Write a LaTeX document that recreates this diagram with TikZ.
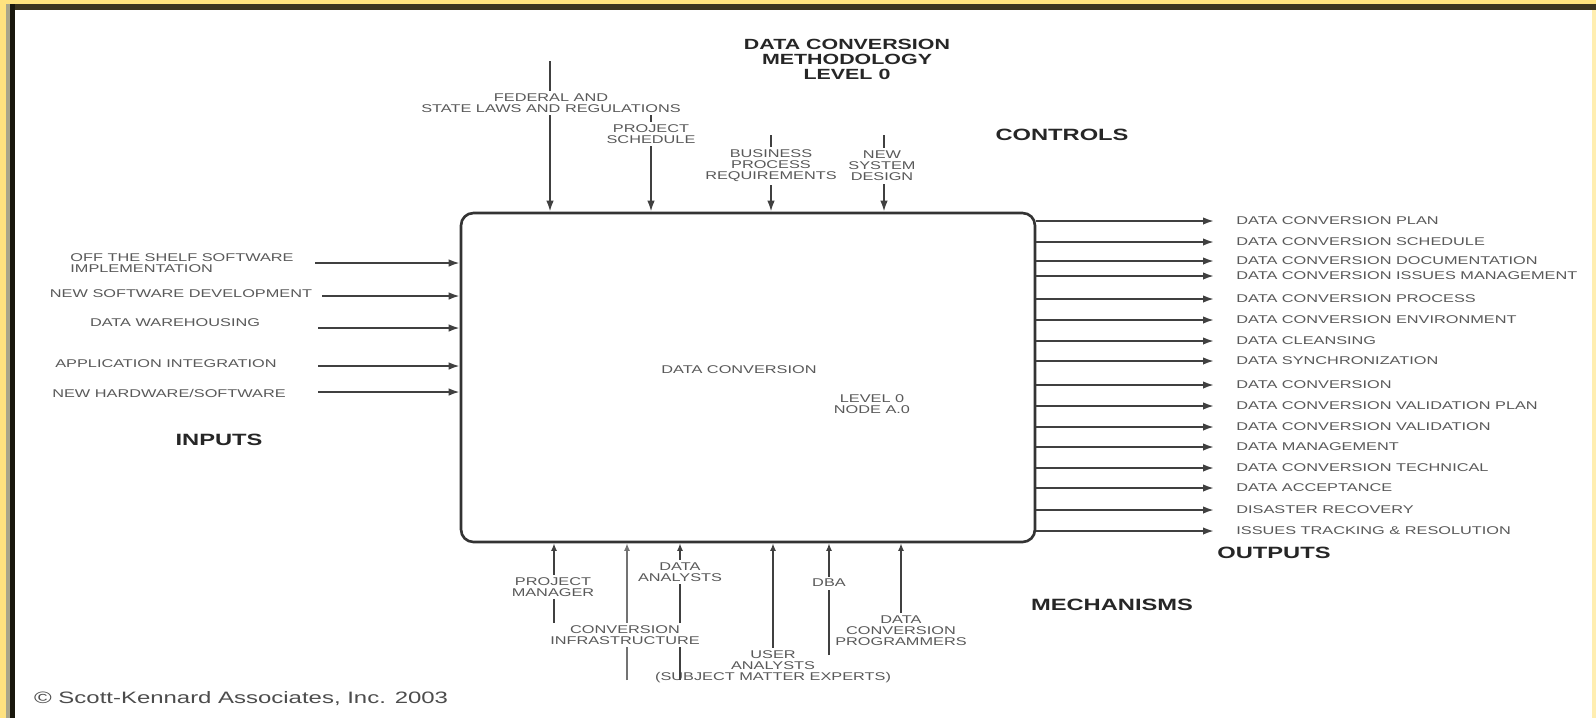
\documentclass[tikz,border=0pt]{standalone}
\usepackage{fontspec}
\setmainfont{Liberation Sans}[FakeStretch=1.45]
\usepackage{xcolor}
\usepackage{tikz}
\usetikzlibrary{arrows.meta}
\definecolor{rim}{HTML}{FFE27F}
\definecolor{rimdark}{HTML}{3B3320}
\definecolor{rimgray}{HTML}{A9A58A}

\begin{document}
\begin{tikzpicture}[x=0.02cm, y=-0.02cm,
  lbl/.style={font=\fontsize{6.4}{6.3}\selectfont, text=black!65, align=center, inner sep=1.5pt},
  onlbl/.style={lbl, fill=white},
  outlbl/.style={lbl, anchor=west, inner sep=0pt},
  head/.style={font=\fontsize{9.3}{9.3}\selectfont\bfseries, text=black!85},
  arr/.style={-{Latex[length=2.2mm, width=1.5mm]}, line width=1.1pt, draw=black!75},
  marr/.style={-{Latex[length=1.5mm, width=1.2mm]}, line width=1.1pt, draw=black!75},
  outarr/.style={arr, shorten >=0.44cm}]
% frame
\useasboundingbox (0,0) rectangle (1596,718);
\fill[white] (0,0) rectangle (1596,718);
\fill[rim] (0,0) rectangle (1596,4);
\fill[rim] (0,0) rectangle (6,718);
\fill[rim!60] (1592,10) rectangle (1596,718);
\fill[rimdark] (6,4) rectangle (1596,10);
\fill[rimgray] (6,4) rectangle (10,718);
\fill[black!90!rim] (10,4) rectangle (15,718);
% titles
\node[font=\fontsize{8.4}{8.5}\selectfont\bfseries, text=black!85, align=center] (title) at (847,59) {DATA CONVERSION\\METHODOLOGY\\LEVEL 0};
\node[head] (controls) at (1062,135) {CONTROLS};
\node[head] (inputs) at (219,440) {INPUTS};
\node[head] (outputs) at (1274,553) {OUTPUTS};
\node[head] (mech) at (1112,605) {MECHANISMS};
\node[font=\fontsize{9.4}{10}\selectfont, text=black!70, anchor=west] (copy) at (28,699) {\textcopyright{} Scott-Kennard Associates, Inc. 2003};
% activity box
\node[draw=black!80, line width=1.5pt, rounded corners=7pt, minimum width=11.48cm, minimum height=6.58cm] (dc) at (748,377.5) {};
\node[lbl] (dcname) at (739,370) {DATA CONVERSION};
\node[lbl] (dcnode) at (872,404) {LEVEL 0\\NODE A.0};
% inputs
\node[lbl, align=left] (ots) at (182,263.5) {OFF THE SHELF SOFTWARE\\IMPLEMENTATION};
\node[lbl] (nsd) at (181,294) {NEW SOFTWARE DEVELOPMENT};
\node[lbl] (dw) at (175,323) {DATA WAREHOUSING};
\node[lbl] (ai) at (166,364) {APPLICATION INTEGRATION};
\node[lbl] (nhs) at (169,393) {NEW HARDWARE/SOFTWARE};
\coordinate (i1) at (315,263);
\coordinate (i2) at (322,296);
\coordinate (i3) at (318,328);
\coordinate (i4) at (318,366);
\coordinate (i5) at (318,392);
\draw[arr] (i1) -- (i1 -| dc.west); \draw[arr] (i2) -- (i2 -| dc.west);
\draw[arr] (i3) -- (i3 -| dc.west); \draw[arr] (i4) -- (i4 -| dc.west);
\draw[arr] (i5) -- (i5 -| dc.west);
% controls
\coordinate (c1) at (550,61);
\coordinate (c2) at (651,114);
\coordinate (c3) at (771,135);
\coordinate (c4) at (884,135);
\draw[arr] (c1) -- (c1 |- dc.north); \draw[arr] (c2) -- (c2 |- dc.north);
\draw[arr] (c3) -- (c3 |- dc.north); \draw[arr] (c4) -- (c4 |- dc.north);
\node[onlbl] (fed) at (551,103) {FEDERAL AND\\STATE LAWS AND REGULATIONS};
\node[onlbl] (sched) at (651,134) {PROJECT\\SCHEDULE};
\node[onlbl] (bpr) at (771,166) {BUSINESS\\PROCESS\\REQUIREMENTS};
\node[onlbl] (sysd) at (882,166) {NEW\\SYSTEM\\DESIGN};
% outputs
\node[outlbl] (o1) at (1236,221) {DATA CONVERSION PLAN};
\node[outlbl] (o2) at (1236,242) {DATA CONVERSION SCHEDULE};
\node[outlbl] (o3) at (1236,261) {DATA CONVERSION DOCUMENTATION};
\node[outlbl] (o4) at (1236,276) {DATA CONVERSION ISSUES MANAGEMENT};
\node[outlbl] (o5) at (1236,299) {DATA CONVERSION PROCESS};
\node[outlbl] (o6) at (1236,320) {DATA CONVERSION ENVIRONMENT};
\node[outlbl] (o7) at (1236,341) {DATA CLEANSING};
\node[outlbl] (o8) at (1236,361) {DATA SYNCHRONIZATION};
\node[outlbl] (o9) at (1236,385) {DATA CONVERSION};
\node[outlbl] (o10) at (1236,406) {DATA CONVERSION VALIDATION PLAN};
\node[outlbl] (o11) at (1236,427) {DATA CONVERSION VALIDATION};
\node[outlbl] (o12) at (1236,447) {DATA MANAGEMENT};
\node[outlbl] (o13) at (1236,468) {DATA CONVERSION TECHNICAL};
\node[outlbl] (o14) at (1236,488) {DATA ACCEPTANCE};
\node[outlbl] (o15) at (1236,510) {DISASTER RECOVERY};
\node[outlbl] (o16) at (1236,531) {ISSUES TRACKING \& RESOLUTION};
\draw[outarr] (dc.east |- o1.west) -- (o1.west); \draw[outarr] (dc.east |- o2.west) -- (o2.west);
\draw[outarr] (dc.east |- o3.west) -- (o3.west); \draw[outarr] (dc.east |- o4.west) -- (o4.west);
\draw[outarr] (dc.east |- o5.west) -- (o5.west); \draw[outarr] (dc.east |- o6.west) -- (o6.west);
\draw[outarr] (dc.east |- o7.west) -- (o7.west); \draw[outarr] (dc.east |- o8.west) -- (o8.west);
\draw[outarr] (dc.east |- o9.west) -- (o9.west); \draw[outarr] (dc.east |- o10.west) -- (o10.west);
\draw[outarr] (dc.east |- o11.west) -- (o11.west); \draw[outarr] (dc.east |- o12.west) -- (o12.west);
\draw[outarr] (dc.east |- o13.west) -- (o13.west); \draw[outarr] (dc.east |- o14.west) -- (o14.west);
\draw[outarr] (dc.east |- o15.west) -- (o15.west); \draw[outarr] (dc.east |- o16.west) -- (o16.west);
% mechanisms
\node[lbl] (ua) at (773,667) {USER\\ANALYSTS\\(SUBJECT MATTER EXPERTS)};
\node[lbl] (dcp) at (901,631) {DATA\\CONVERSION\\PROGRAMMERS};
\coordinate (m1) at (554,625);
\coordinate (m2) at (627,680);
\coordinate (m3) at (680,680);
\coordinate (m5) at (829,655);
\draw[marr] (m1) -- (m1 |- dc.south);
\draw[marr, draw=black!55, line width=1.6pt] (m2) -- (m2 |- dc.south);
\draw[marr] (m3) -- (m3 |- dc.south);
\draw[marr] (ua.north) -- (ua.north |- dc.south);
\draw[marr] (m5) -- (m5 |- dc.south);
\draw[marr] (dcp.north) -- (dcp.north |- dc.south);
\node[onlbl] (pm) at (553,587) {PROJECT\\MANAGER};
\node[onlbl] (da) at (680,572) {DATA\\ANALYSTS};
\node[onlbl] (ci) at (625,635) {CONVERSION\\INFRASTRUCTURE};
\node[onlbl] (dba) at (829,583) {DBA};
\end{tikzpicture}
\end{document}
